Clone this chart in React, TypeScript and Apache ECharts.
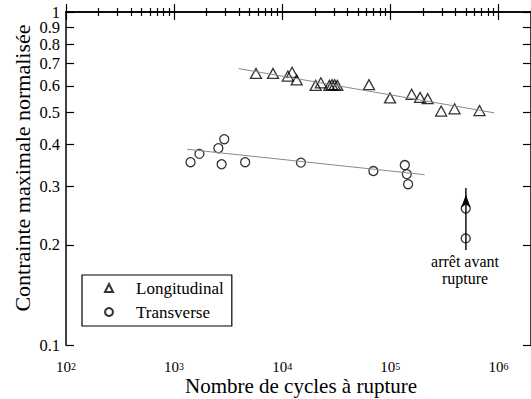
import React, { useEffect, useRef } from 'react';
import * as echarts from 'echarts';

// Longitudinal specimens: cycles to failure / normalised max stress
const longN = [5720, 8220, 11270, 12330, 13610, 20370, 22760, 27300, 28900, 30530, 32300, 63500, 99400, 157400, 188500, 221400, 295000, 392500, 668000];
const longS = [0.654, 0.654, 0.642, 0.659, 0.625, 0.602, 0.613, 0.602, 0.605, 0.605, 0.602, 0.605, 0.552, 0.566, 0.554, 0.549, 0.504, 0.512, 0.506];

// Transverse specimens
const transN = [1419, 1714, 2566, 2909, 2750, 4540, 14890, 69700, 136100, 142000, 145900];
const transS = [0.354, 0.375, 0.39, 0.415, 0.349, 0.354, 0.353, 0.333, 0.347, 0.326, 0.304];

// Run-outs (test stopped before failure)
const runoutN = [498000, 498000];
const runoutS = [0.257, 0.209];

// Fit lines (end points)
const longFitN = [3950, 914000];
const longFitS = [0.676, 0.498];
const transFitN = [1321, 208000];
const transFitS = [0.387, 0.3247];

// Run-out arrow (from / to)
const arrowN = [500000, 500000];
const arrowS = [0.193, 0.296];

// Axes
const xRange = [100, 2000000];
const xMajor = [100, 1000, 10000, 100000, 1000000];
const yTicks = [0.1, 0.2, 0.3, 0.4, 0.5, 0.6, 0.7, 0.8, 0.9, 1];

const legendNames = ['Longitudinal', 'Transverse'];
const xTitle = 'Nombre de cycles à rupture';
const yTitle = 'Contrainte maximale normalisée';
const noteText = 'arrêt avant\nrupture';

const FONT = 'Liberation Serif';

export default function App() {
  const ref = useRef<HTMLDivElement>(null);
  useEffect(() => {
    const chart = echarts.init(ref.current!, null, { renderer: 'svg' });
    const lg = Math.log10;
    const pts = (xs: number[], ys: number[]) => xs.map((x, i) => [lg(x), lg(ys[i])]);
    const xMin = lg(xRange[0]);
    const xMax = lg(xRange[1]);
    const majorX = xMajor.map(lg);
    const minorX: number[] = [];
    xMajor.forEach((d) => {
      for (let k = 2; k <= 9; k++) {
        const v = k * d;
        if (v <= xRange[1]) minorX.push(lg(v));
      }
    });
    const yT = yTicks.map(lg);
    const yTop = lg(yTicks[yTicks.length - 1]);
    const yRest = yT.filter((v) => v !== yTop);
    const black = '#000';
    const tickStyle = { color: black, width: 1.2 };
    const axisLine = { show: true, lineStyle: { color: black, width: 1.5 } };
    const gridBox = { left: 66, top: 12, width: 473, height: 333 };
    const yFmt = (v: number) => {
      const s = Math.round(Math.pow(10, v) * 10) / 10;
      return s >= 1 ? '1' : s.toFixed(1);
    };
    const yLabelStyle = { fontFamily: FONT, fontSize: 16.5, lineHeight: 12, color: black };

    const option: any = {
      animation: false,
      backgroundColor: '#fff',
      grid: [gridBox, gridBox],
      xAxis: [
        {
          gridIndex: 0, type: 'value', position: 'bottom', min: xMin, max: xMax,
          axisLine, splitLine: { show: false },
          axisTick: { show: true, inside: true, length: 8, customValues: majorX, lineStyle: tickStyle },
          axisLabel: {
            show: true, customValues: majorX, margin: 16, showMinLabel: true, showMaxLabel: true,
            formatter: (v: number) => `{b|10}{s|${Math.round(v)}}`,
            rich: {
              b: { fontFamily: FONT, fontSize: 15, lineHeight: 12, color: black },
              s: { fontFamily: FONT, fontSize: 10, lineHeight: 2, verticalAlign: 'top', color: black },
            },
          },
        },
        {
          gridIndex: 0, type: 'value', position: 'top', min: xMin, max: xMax,
          axisLine, splitLine: { show: false },
          axisTick: { show: true, inside: true, length: 8, customValues: majorX, lineStyle: tickStyle },
          axisLabel: { show: false },
        },
        {
          gridIndex: 1, type: 'value', position: 'bottom', min: xMin, max: xMax,
          axisLine: { show: false }, splitLine: { show: false },
          axisTick: { show: true, inside: true, length: 4, customValues: minorX, lineStyle: tickStyle },
          axisLabel: { show: false },
        },
        {
          gridIndex: 1, type: 'value', position: 'top', min: xMin, max: xMax,
          axisLine: { show: false }, splitLine: { show: false },
          axisTick: { show: true, inside: true, length: 4, customValues: minorX, lineStyle: tickStyle },
          axisLabel: { show: false },
        },
      ],
      yAxis: [
        {
          gridIndex: 0, type: 'value', position: 'left', min: -1, max: 0,
          axisLine, splitLine: { show: false },
          axisTick: { show: true, inside: true, length: 8, customValues: yT, lineStyle: tickStyle },
          axisLabel: {
            show: true, customValues: yRest, margin: 6, showMinLabel: true,
            ...yLabelStyle, formatter: yFmt,
          },
        },
        {
          gridIndex: 0, type: 'value', position: 'right', min: -1, max: 0,
          axisLine, splitLine: { show: false },
          axisTick: { show: true, inside: true, length: 8, customValues: yT, lineStyle: tickStyle },
          axisLabel: { show: false },
        },
        {
          gridIndex: 1, type: 'value', position: 'left', min: -1, max: 0,
          axisLine: { show: false }, axisTick: { show: false }, splitLine: { show: false },
          axisLabel: {
            show: true, customValues: [yTop], margin: 6, showMaxLabel: true,
            ...yLabelStyle, formatter: yFmt,
          },
        },
      ],
      legend: {
        data: legendNames,
        orient: 'vertical',
        left: 82,
        top: 275,
        padding: [3, 8, 4, 22],
        itemWidth: 8,
        itemHeight: 8,
        itemGap: 4,
        borderColor: black,
        borderWidth: 1.2,
        selectedMode: false,
        textStyle: { fontFamily: FONT, fontSize: 17, color: black, lineHeight: 20, padding: [0, 0, 0, 18] },
      },
      series: [
        {
          name: 'fitL', type: 'line', xAxisIndex: 0, yAxisIndex: 0, silent: true,
          data: pts(longFitN, longFitS), symbol: 'none',
          lineStyle: { color: '#8a8a8a', width: 1 },
        },
        {
          name: 'fitT', type: 'line', xAxisIndex: 0, yAxisIndex: 0, silent: true,
          data: pts(transFitN, transFitS), symbol: 'none',
          lineStyle: { color: '#8a8a8a', width: 1 },
        },
        {
          name: 'arrow', type: 'line', xAxisIndex: 0, yAxisIndex: 0, silent: true,
          data: [
            { value: [lg(arrowN[0]), lg(arrowS[0])], symbol: 'none' },
            { value: [lg(arrowN[1]), lg(arrowS[1])], symbol: 'arrow', symbolSize: [7, 13], symbolOffset: [0, '50%'] },
          ],
          showSymbol: true,
          itemStyle: { color: black },
          lineStyle: { color: black, width: 1.4 },
        },
        {
          name: legendNames[0], type: 'scatter', xAxisIndex: 0, yAxisIndex: 0,
          data: pts(longN, longS), symbol: 'triangle', symbolSize: [11, 10],
          itemStyle: { color: 'rgba(0,0,0,0)', borderColor: black, borderWidth: 1.3 },
        },
        {
          name: legendNames[1], type: 'scatter', xAxisIndex: 0, yAxisIndex: 0,
          data: pts(transN, transS), symbol: 'circle', symbolSize: 9,
          itemStyle: { color: 'rgba(0,0,0,0)', borderColor: black, borderWidth: 1.3 },
        },
        {
          name: 'runout', type: 'scatter', xAxisIndex: 0, yAxisIndex: 0,
          data: pts(runoutN, runoutS), symbol: 'circle', symbolSize: 9,
          itemStyle: { color: 'rgba(0,0,0,0)', borderColor: black, borderWidth: 1.3 },
        },
      ],
      graphic: [
        {
          type: 'text', x: 22, y: 168, rotation: Math.PI / 2,
          style: { text: yTitle, fontFamily: FONT, fontSize: 22, fill: black, align: 'center', verticalAlign: 'middle' },
        },
        {
          type: 'text', x: 301, y: 386,
          style: { text: xTitle, fontFamily: FONT, fontSize: 21, fill: black, align: 'center', verticalAlign: 'middle' },
        },
        {
          type: 'text', x: 465, y: 270,
          style: { text: noteText, fontFamily: FONT, fontSize: 16, lineHeight: 17, fill: black, align: 'center', verticalAlign: 'middle' },
        },
      ],
    };
    chart.setOption(option);
    return () => chart.dispose();
  }, []);
  return <div ref={ref} style={{ position: 'fixed', left: 0, top: 0, width: 531, height: 399 }} />;
}
